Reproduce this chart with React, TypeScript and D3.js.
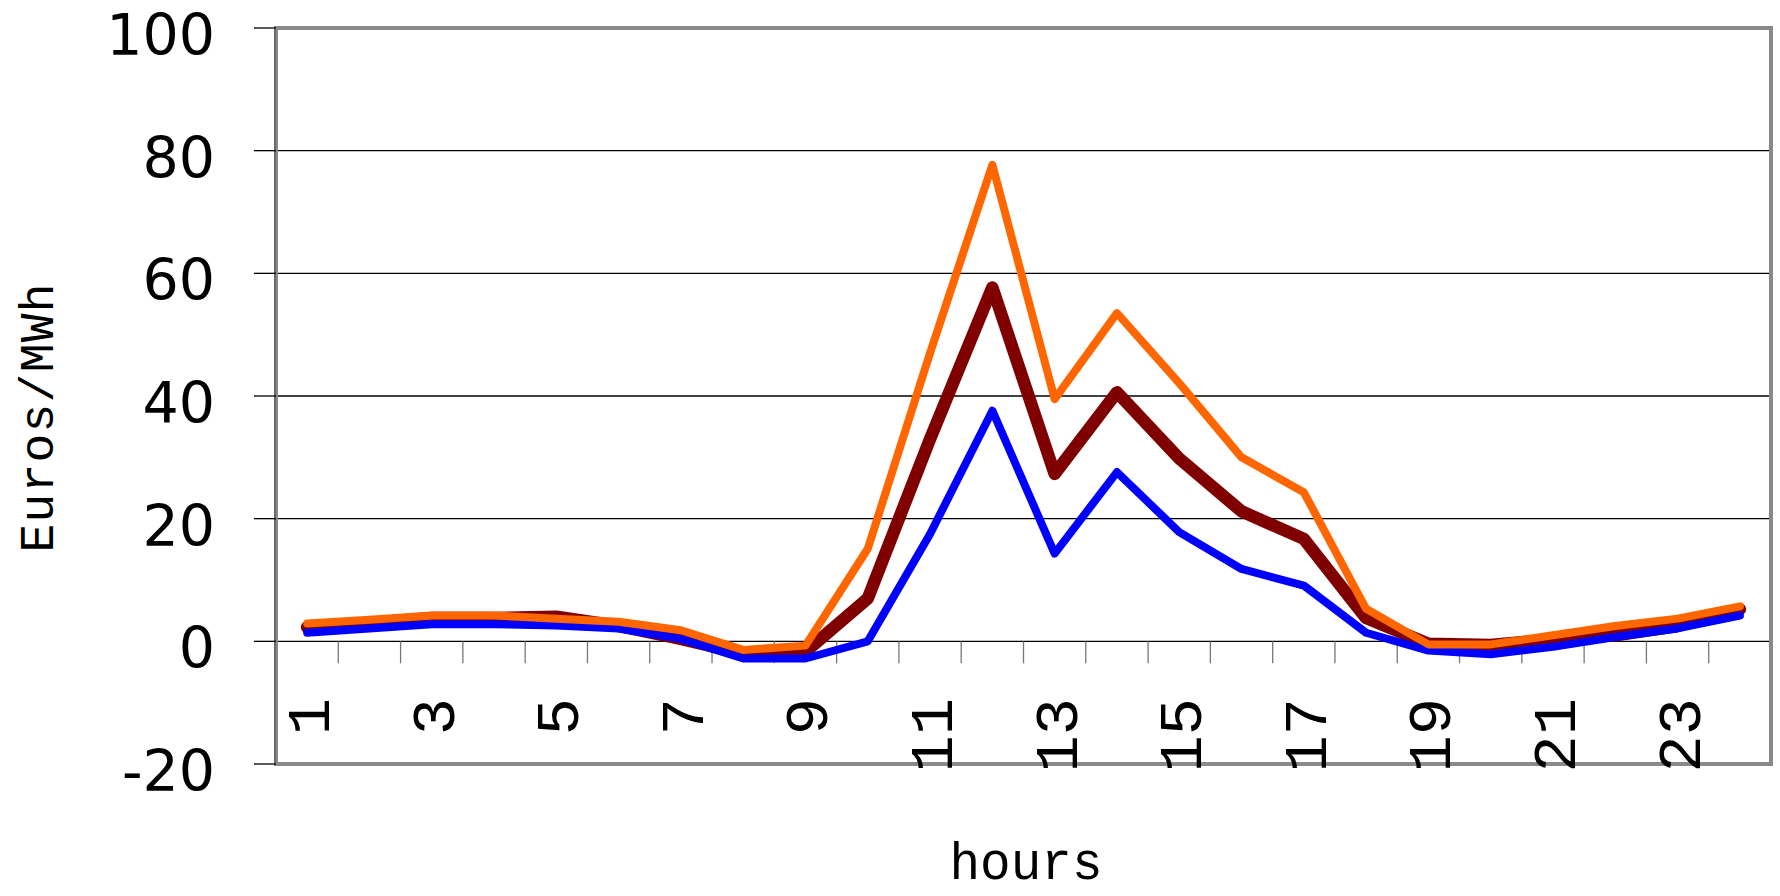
import React from "react";
import * as d3 from "d3";

const hours: number[] = Array.from({ length: 24 }, (_, i) => i + 1);
const hourLabels: string[] = ["1", "3", "5", "7", "9", "11", "13", "15", "17", "19", "21", "23"];
const yTicks: number[] = [100, 80, 60, 40, 20, 0, -20];
const gridValues: number[] = [80, 60, 40, 20, 0];

const orangeSeries: number[] = [2.9, 3.5, 4.2, 4.2, 3.7, 3.2, 1.8, -1.4, -0.7, 15.1, 47, 77.7, 39.5, 53.5, 42.1, 30.0, 24.3, 5.3, -0.5, -0.5, 1.0, 2.5, 3.7, 5.7];
const brownSeries: number[] = [2.3, 3.0, 3.8, 3.8, 4.0, 2.5, 0.4, -2.0, -1.7, 7.0, 33, 57.7, 27.3, 40.6, 29.8, 21.2, 16.7, 3.8, -0.4, -0.6, 0.3, 1.0, 2.5, 5.2];
const blueSeries: number[] = [1.4, 2.1, 2.8, 2.8, 2.6, 2.1, 0.4, -2.8, -2.8, 0.0, 17.5, 37.6, 14.3, 27.6, 17.8, 11.8, 9.1, 1.4, -1.5, -2.1, -0.9, 0.7, 2.1, 4.2];

const seriesList = [
  { name: "brown", values: brownSeries, color: "#800000", width: 12.5 },
  { name: "blue", values: blueSeries, color: "#0000FF", width: 8 },
  { name: "orange", values: orangeSeries, color: "#FF6600", width: 8 },
];

const W = 1780;
const H = 896;
const left = 276;
const right = 1771;
const top = 28;
const bottom = 764;

export default function App() {
  const x = d3.scaleBand<number>().domain(hours).range([left, right]).padding(0);
  const y = d3.scaleLinear().domain([-20, 100]).range([bottom, top]);
  const cx = (h: number) => (x(h) as number) + x.bandwidth() / 2;
  const line = d3
    .line<number>()
    .x((_, i) => cx(hours[i]))
    .y((v) => y(v));

  const monoFont = "'Liberation Mono', 'Courier New', monospace";
  const sansFont = "'DejaVu Sans', sans-serif";

  return (
    <svg
      width={W}
      height={H}
      style={{ position: "absolute", left: 0, top: 0, background: "#fff" }}
    >
      <rect x={0} y={0} width={W} height={H} fill="#fff" />
      {gridValues.map((v) => (
        <line key={"g" + v} x1={left} x2={right} y1={y(v)} y2={y(v)} stroke="#000" strokeWidth={1.3} />
      ))}
      {d3.range(1, 25).map((k) => {
        const xx = left + k * x.bandwidth();
        return <line key={"xt" + k} x1={xx} x2={xx} y1={y(0)} y2={y(0) + 22} stroke="#777" strokeWidth={1.3} />;
      })}
      <rect x={left} y={top} width={right - left} height={bottom - top} fill="none" stroke="#8a8a8a" strokeWidth={4} />
      <line x1={left - 1} x2={left - 1} y1={top} y2={bottom} stroke="#555" strokeWidth={1.2} />
      {yTicks.map((v) => (
        <g key={"yt" + v}>
          <line x1={left - 22} x2={left} y1={y(v)} y2={y(v)} stroke="#000" strokeWidth={1.3} />
          <text x={215} y={y(v) + 27} textAnchor="end" fontFamily={sansFont} fontSize={57} fill="#000">
            {v < 0 ? "-" + Math.abs(v) : String(v)}
          </text>
        </g>
      ))}
      {seriesList.map((s) => (
        <path
          key={s.name}
          d={line(s.values) || ""}
          fill="none"
          stroke={s.color}
          strokeWidth={s.width}
          strokeLinejoin="round"
          strokeLinecap="round"
        />
      ))}
      {hourLabels.map((lab) => {
        const h = +lab;
        return (
          <text
            key={"xl" + lab}
            transform={`translate(${cx(h)},${698}) rotate(-90)`}
            x={0}
            y={22}
            textAnchor="end"
            fontFamily={monoFont}
            fontSize={62}
            fill="#000"
          >
            {lab}
          </text>
        );
      })}
      <text
        transform={`translate(53,418) rotate(-90)`}
        textAnchor="middle"
        fontFamily={monoFont}
        fontSize={48}
        textLength={269}
        lengthAdjust="spacing"
        fill="#000"
      >
        Euros/MWh
      </text>
      <text x={1026} y={879} textAnchor="middle" fontFamily={monoFont} fontSize={51} fill="#000">
        hours
      </text>
    </svg>
  );
}
